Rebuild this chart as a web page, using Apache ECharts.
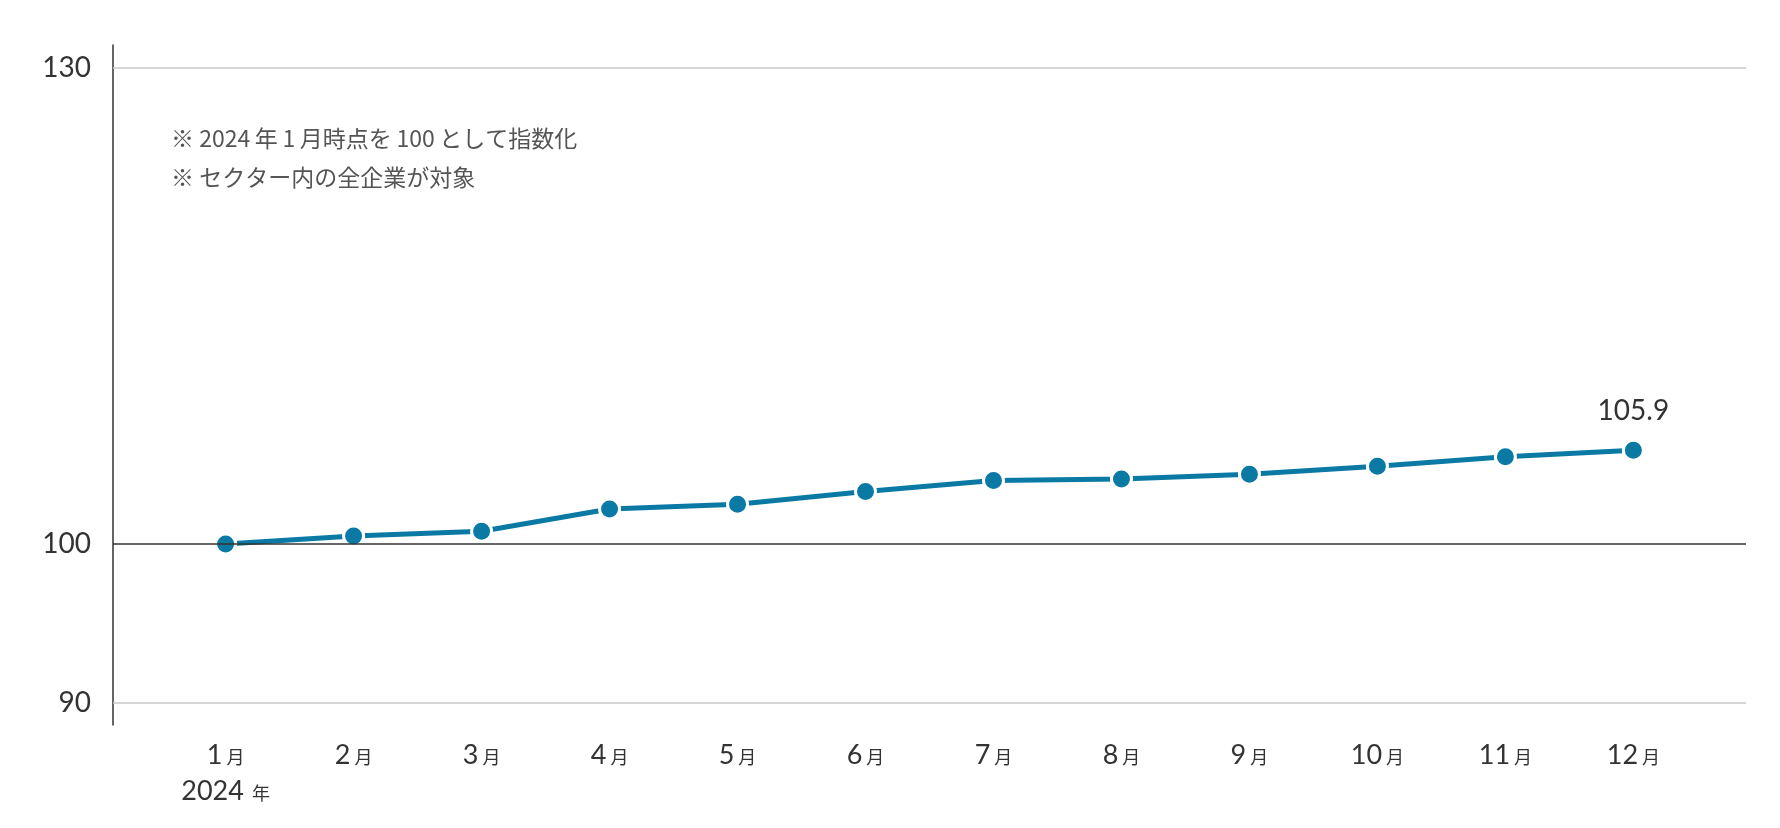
<!DOCTYPE html>
<html>
<head>
<meta charset="utf-8">
<script src="https://cdn.jsdelivr.net/npm/echarts@6/dist/echarts.min.js"></script>
<style>
  html, body { margin: 0; padding: 0; background: #fff; }
  #chart { width: 1780px; height: 828px; }
</style>
</head>
<body>
<div id="chart"></div>
<script>
// データ
const months = ["1", "2", "3", "4", "5", "6", "7", "8", "9", "10", "11", "12"];
const indexValues = [100, 100.5, 100.8, 102.2, 102.5, 103.3, 104.0, 104.1, 104.4, 104.9, 105.5, 105.9];
const yTicks = [90, 100, 130];
const startYear = "2024";
const notes = ["※ 2024\u2009年\u20091\u2009月時点を\u2009100\u2009として指数化", "※ セクター内の全企業が対象"];

const lineColor = "#0a7aa5";
const numFont = 'Lato, "Noto Sans CJK JP", sans-serif';

let myChart = echarts.init(document.getElementById("chart"));

const seriesData = indexValues.map((v, i) => {
  if (i === indexValues.length - 1) {
    return { value: [i, v], label: { show: true } };
  }
  return [i, v];
});

const option = {
  animation: false,
  grid: { left: 113, right: 34, top: 45, bottom: 103 },
  xAxis: {
    type: "value",
    min: -0.88,
    max: 11.88,
    axisLine: { show: false },
    axisTick: { show: false },
    splitLine: { show: false },
    axisLabel: {
      customValues: months.map((m, i) => i),
      margin: 12,
      formatter: function (v) {
        let s = "{n|" + months[v] + "}{u|月}";
        if (v === 0) s += "\n{n|" + startYear + "}{u| 年}";
        return s;
      },
      rich: {
        n: { fontFamily: numFont, fontSize: 27, color: "#333", lineHeight: 36 },
        u: { fontFamily: '"Noto Sans CJK JP", sans-serif', fontSize: 18, color: "#333", lineHeight: 36, padding: [4, 0, 0, 4] }
      }
    }
  },
  yAxis: {
    type: "value",
    min: 88.6,
    max: 131.43,
    axisLine: { show: true, onZero: false, lineStyle: { color: "#333", width: 1.5 } },
    axisTick: { show: false },
    splitLine: { show: false },
    axisLabel: {
      customValues: yTicks,
      margin: 22,
      fontFamily: numFont,
      fontSize: 28,
      color: "#333"
    }
  },
  graphic: [
    {
      type: "text",
      left: 171,
      top: 119,
      style: {
        text: notes.join("\n"),
        font: '23px "Noto Sans CJK JP", sans-serif',
        fill: "#555",
        lineHeight: 39
      }
    }
  ],
  series: [
    {
      // グリッド線
      type: "line",
      data: [],
      z: 1,
      silent: true,
      markLine: {
        silent: true,
        symbol: "none",
        label: { show: false },
        data: [
          { yAxis: 130, lineStyle: { color: "#c8c8c8", width: 1.5, type: "solid" } },
          { yAxis: 90, lineStyle: { color: "#c8c8c8", width: 1.5, type: "solid" } },
          { yAxis: 100, lineStyle: { color: "#333", width: 1.5, type: "solid" } }
        ]
      }
    },
    {
      type: "line",
      z: 3,
      data: seriesData,
      symbol: "circle",
      symbolSize: 20,
      lineStyle: { color: lineColor, width: 5 },
      itemStyle: { color: lineColor, borderColor: "#fff", borderWidth: 3 },
      label: {
        show: false,
        position: "top",
        distance: 14,
        fontFamily: numFont,
        fontSize: 28,
        color: "#333",
        formatter: p => p.value[1].toFixed(1)
      }
    }
  ]
};

myChart.setOption(option);
</script>
</body>
</html>
